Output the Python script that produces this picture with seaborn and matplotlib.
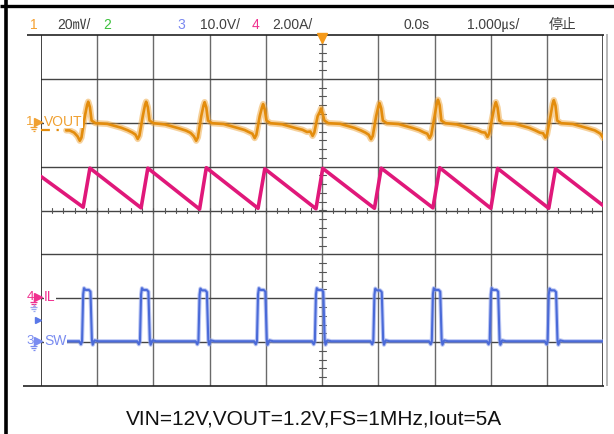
import numpy as np
import pandas as pd
import matplotlib
matplotlib.use("Agg")
import matplotlib.pyplot as plt
import seaborn as sns
from matplotlib.lines import Line2D

# ---- scope settings -------------------------------------------------------
# vertical scale per division and ground-marker position (divisions)
scale_vout_mv = 20.0
scale_il_a = 2.0
scale_sw_v = 10.0
pos_vout = 2.0
pos_il = -2.0
pos_sw = -3.0

# ---- captured waveforms (time base 1 us/div, trigger at 0 us) -------------
# switch-node pulses: rising / falling edge times (us) and plateau level (V)
sw_rise_us = [-4.27, -3.24, -2.20, -1.16, -0.13, 0.91, 1.95, 2.98, 4.01]
sw_fall_us = [-4.12, -3.09, -2.05, -1.01, 0.02, 1.06, 2.10, 3.13, 4.16]
sw_high_v = [11.9, 11.9, 11.8, 11.9, 11.9, 11.8, 11.9, 11.9, 11.8]
sw_low_v = 0.2

# inductor current: valley / peak per switching cycle (A)
il_valley_a = [4.15, 4.12, 4.06, 4.10, 4.08, 4.10, 4.12, 4.10, 4.10]
il_peak_a = [5.93, 5.93, 5.95, 5.90, 5.92, 5.93, 5.95, 5.92, 5.90]
il_start_a = 5.55
il_end_a = 4.22

# output ripple (mV, AC around 1.2 V): pre-pulse dip and post-pulse peak
vout_dip_mv = [-8.2, -7.4, -8.2, -7.0, -6.0, -7.5, -7.0, -6.5, -6.8]
vout_peak_mv = [9.6, 9.6, 9.4, 8.5, 6.5, 9.0, 10.5, 9.4, 10.3]
vout_flat_mv = [-0.5, -0.8, -0.6, -0.7, -0.5, -0.6, -0.8, -0.5, -0.6]
vout_sag_mv = [-3.5, -3.4, -3.6, -3.3, -3.2, -3.5, -3.4, -3.3, -3.5]

# header readouts
hdr_ch = ["1", "2", "3", "4"]
hdr_scale = ["20㎷/", "", "10.0V/", "2.00A/"]
hdr_delay = "0.0s"
hdr_timebase = "1.000㎲/"
hdr_state = "停止"
caption = "VIN=12V,VOUT=1.2V,FS=1MHz,Iout=5A"

c_vout = "#e38c0c"
c_il = "#e0187a"
c_sw = "#4a6ad8"
c_hdr = ["#f5a030", "#3cc03c", "#7a88f0", "#f0308f"]

# ---- build polylines -------------------------------------------------------
sw_t, sw_v = [-4.65], [sw_low_v]
for tr, tf, hi in zip(sw_rise_us, sw_fall_us, sw_high_v):
    sw_t += [tr - 0.05, tr - 0.02, tr, tr + 0.02, tr + 0.035, tr + 0.06,
             tf - 0.03, tf, tf + 0.025, tf + 0.04, tf + 0.07, tf + 0.14]
    sw_v += [sw_low_v, -0.5, sw_low_v, hi - 1.0, hi + 0.4, hi,
             hi, hi - 0.4, 0.5, -0.6, 0.4, sw_low_v]
sw_t += [5.0]
sw_v += [sw_low_v]

il_t, il_i = [-5.0], [il_start_a]
for tr, tf, lo, pk in zip(sw_rise_us, sw_fall_us, il_valley_a, il_peak_a):
    il_t += [tr + 0.02, tf - 0.01]
    il_i += [lo, pk]
il_t += [5.0]
il_i += [il_end_a]

vo_t, vo_v = [-4.55], [-3.5]
for tr, dip, pk, fl, sg in zip(sw_rise_us, vout_dip_mv, vout_peak_mv,
                               vout_flat_mv, vout_sag_mv):
    vo_t += [tr - 0.22, tr - 0.14, tr - 0.08, tr - 0.04, tr - 0.01,
             tr + 0.05, tr + 0.09, tr + 0.11, tr + 0.14, tr + 0.17,
             tr + 0.24, tr + 0.45, tr + 0.70]
    vo_v += [sg, sg - 1.0, dip + 2.0, dip, dip + 1.5,
             3.0, pk - 1.5, pk, pk - 2.5, 1.0,
             -0.2, fl, fl - 1.8]
vo_t += [4.85, 4.95, 5.0]
vo_v += [-3.5, -5.0, -7.0]

df_sw = pd.DataFrame({"t": sw_t, "div": pos_sw + np.array(sw_v) / scale_sw_v})
df_il = pd.DataFrame({"t": il_t, "div": pos_il + np.array(il_i) / scale_il_a})
df_vo = pd.DataFrame({"t": vo_t, "div": pos_vout + np.array(vo_v) / scale_vout_mv})
df_vo_lead = pd.DataFrame({"t": [-5.0, -4.55],
                           "div": [pos_vout - 3.5 / scale_vout_mv] * 2})

# ---- figure ----------------------------------------------------------------
sns.set_theme(style="white")
plt.rcParams["font.family"] = ["Liberation Sans", "DejaVu Sans"]

W, H = 614, 435
fig = plt.figure(figsize=(W / 100, H / 100), dpi=100)
L, R, T, B = 41, 603.3, 36, 387
ax = fig.add_axes([L / W, 1 - B / H, (R - L) / W, (B - T) / H])
ax.set_xlim(-5, 5)
ax.set_ylim(-4, 4)
ax.set_axis_off()


def fx(x):
    return x / W


def fy(y):
    return 1 - y / H


def fline(xs, ys, color, lw):
    fig.add_artist(Line2D([fx(v) for v in xs], [fy(v) for v in ys],
                          transform=fig.transFigure, color=color, lw=lw,
                          solid_capstyle="butt"))


# graticule
for xv in range(-4, 5):
    ax.axvline(xv, color="#6a6a6a", lw=1.0, zorder=1)
for yv in range(-3, 4):
    ax.axhline(yv, color="#444444", lw=1.0, zorder=1)
ax.axvline(-5, color="#222222", lw=1.2, zorder=1)
ax.axvline(5, color="#333333", lw=1.2, zorder=1)
fline([27, 603.5], [36, 36], "#222222", 1.2)
fline([23, 603.5], [387, 387], "#222222", 1.2)
fline([606.5, 606.5], [35, 387], "#aaaaaa", 1.2)

# minor ticks on the centre lines
for m in np.arange(-5, 5.001, 0.2):
    ax.plot([m, m], [-0.055, 0.055], color="#555555", lw=0.8, zorder=1)
for m in np.arange(-4, 4.001, 0.2):
    ax.plot([-0.06, 0.06], [m, m], color="#555555", lw=0.8, zorder=1)

# traces
sns.lineplot(data=df_il, x="t", y="div", ax=ax, color=c_il, lw=2.6,
             estimator=None, sort=False, zorder=3)
sns.lineplot(data=df_sw, x="t", y="div", ax=ax, color="#8fa2ee", lw=3.0,
             estimator=None, sort=False, zorder=3, alpha=0.6)
sns.lineplot(data=df_sw, x="t", y="div", ax=ax, color=c_sw, lw=1.5,
             estimator=None, sort=False, zorder=4)
sns.lineplot(data=df_vo, x="t", y="div", ax=ax, color="#eea53a", lw=4.5,
             estimator=None, sort=False, zorder=3, alpha=0.5)
sns.lineplot(data=df_vo, x="t", y="div", ax=ax, color=c_vout, lw=1.9,
             estimator=None, sort=False, zorder=4)
sns.lineplot(data=df_vo_lead, x="t", y="div", ax=ax, color=c_vout, lw=1.6,
             estimator=None, sort=False, zorder=4, linestyle=(0, (4, 3, 1, 3)))

# trigger position marker
fig.add_artist(Line2D([fx(322.2)], [fy(38.5)], transform=fig.transFigure,
                      marker="v", markersize=7, color="#f59a1a", lw=0))

# outer black frame
fline([0, W], [7, 7], "black", 2.4)
fline([6, 6], [0, H], "black", 2.6)

# header readouts
narrow = ["Liberation Sans Narrow", "Liberation Sans", "Noto Sans CJK JP"]
fig.text(fx(33.5), fy(25), hdr_ch[0], color=c_hdr[0], fontsize=10,
         family=narrow, ha="center", va="center")
fig.text(fx(57), fy(25), hdr_scale[0], color="#404040", fontsize=10,
         family=narrow, ha="left", va="center")
fig.text(fx(107.5), fy(25), hdr_ch[1], color=c_hdr[1], fontsize=10,
         family=narrow, ha="center", va="center")
fig.text(fx(181.5), fy(25), hdr_ch[2], color=c_hdr[2], fontsize=10,
         family=narrow, ha="center", va="center")
fig.text(fx(200), fy(25), hdr_scale[2], color="#404040", fontsize=10,
         family=narrow, ha="left", va="center")
fig.text(fx(255.5), fy(25), hdr_ch[3], color=c_hdr[3], fontsize=10,
         family=narrow, ha="center", va="center")
fig.text(fx(272), fy(25), hdr_scale[3], color="#404040", fontsize=10,
         family=narrow, ha="left", va="center")
fig.text(fx(403), fy(25), hdr_delay, color="#404040", fontsize=10,
         family=narrow, ha="left", va="center")
fig.text(fx(467), fy(25), hdr_timebase, color="#404040", fontsize=10,
         family=narrow, ha="left", va="center")
fig.text(fx(549), fy(25), hdr_state, color="#404040", fontsize=10,
         family=["Noto Sans CJK JP", "DejaVu Sans"], ha="left", va="center")


# channel ground markers on the left edge
def ground(x, y, color):
    fline([x, x], [y, y + 3], color, 0.9)
    fline([x - 3.5, x + 3.5], [y + 3, y + 3], color, 0.9)
    fline([x - 2.3, x + 2.3], [y + 5, y + 5], color, 0.9)
    fline([x - 1, x + 1], [y + 7, y + 7], color, 0.9)


def tri(x, y, color, size=5.5):
    fig.add_artist(Line2D([fx(x)], [fy(y)], transform=fig.transFigure,
                          marker=">", markersize=size, color=color, lw=0))


def chan_label(num, name, y, color):
    fig.text(fx(30), fy(y - 1), num, color=color, fontsize=9.5, family=narrow,
             ha="center", va="center")
    ground(33.5, y + 1.5, color)
    tri(37.5, y, color)
    fig.text(fx(44), fy(y - 1), name, color=color, fontsize=10, family=narrow,
             ha="left", va="center",
             bbox=dict(boxstyle="square,pad=0.02", fc="white", ec="none"))


chan_label("1", "VOUT", 123, "#f0a030")
chan_label("4", "IL", 298, "#f0308f")
chan_label("3", "SW", 342, "#7a8cf0")
ground(33.5, 305, "#9aa8f0")
tri(38, 321, "#5a78e8", 5)

# test condition caption
fig.text(fx(313.5), fy(419), caption, color="#111111", fontsize=15,
         family=["Liberation Sans", "DejaVu Sans"], ha="center", va="center")

fig.savefig("out.png", dpi=100, facecolor="white")
